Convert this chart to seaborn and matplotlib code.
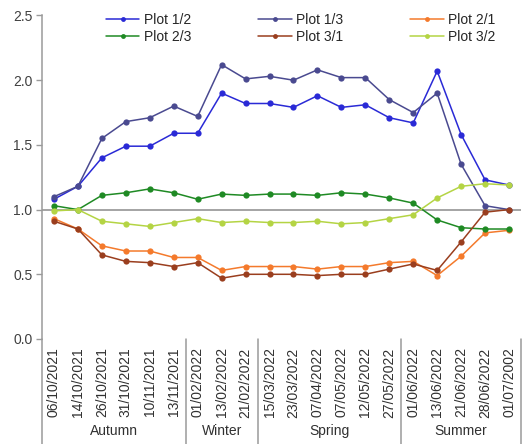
import numpy as np
import pandas as pd
import matplotlib
matplotlib.use("Agg")
import matplotlib.pyplot as plt
import matplotlib.transforms as mtransforms
from matplotlib.lines import Line2D
import seaborn as sns

# Sampling dates grouped by season
dates = ["06/10/2021", "14/10/2021", "26/10/2021", "31/10/2021", "10/11/2021", "13/11/2021",
         "01/02/2022", "13/02/2022", "21/02/2022",
         "15/03/2022", "23/03/2022", "07/04/2022", "07/05/2022", "12/05/2022", "27/05/2022",
         "01/06/2022", "13/06/2022", "21/06/2022", "28/06/2022", "01/07/2002"]
seasons = ["Autumn", "Winter", "Spring", "Summer"]
season_sizes = [6, 3, 6, 5]

# Ratios between plots
plot_1_2 = [1.08, 1.18, 1.40, 1.49, 1.49, 1.59, 1.59, 1.90, 1.82, 1.82,
            1.79, 1.88, 1.79, 1.81, 1.71, 1.67, 2.07, 1.58, 1.23, 1.19]
plot_1_3 = [1.10, 1.18, 1.55, 1.68, 1.71, 1.80, 1.72, 2.12, 2.01, 2.03,
            2.00, 2.08, 2.02, 2.02, 1.85, 1.75, 1.90, 1.35, 1.03, 1.00]
plot_2_1 = [0.93, 0.85, 0.72, 0.68, 0.68, 0.63, 0.63, 0.53, 0.56, 0.56,
            0.56, 0.54, 0.56, 0.56, 0.59, 0.60, 0.49, 0.64, 0.82, 0.84]
plot_2_3 = [1.03, 1.00, 1.11, 1.13, 1.16, 1.13, 1.08, 1.12, 1.11, 1.12,
            1.12, 1.11, 1.13, 1.12, 1.09, 1.05, 0.92, 0.86, 0.85, 0.85]
plot_3_1 = [0.91, 0.85, 0.65, 0.60, 0.59, 0.56, 0.59, 0.47, 0.50, 0.50,
            0.50, 0.49, 0.50, 0.50, 0.54, 0.58, 0.53, 0.75, 0.98, 1.00]
plot_3_2 = [0.99, 1.00, 0.91, 0.89, 0.87, 0.90, 0.93, 0.90, 0.91, 0.90,
            0.90, 0.91, 0.89, 0.90, 0.93, 0.96, 1.09, 1.18, 1.20, 1.19]

series_names = ["Plot 1/2", "Plot 1/3", "Plot 2/1", "Plot 2/3", "Plot 3/1", "Plot 3/2"]
series_values = [plot_1_2, plot_1_3, plot_2_1, plot_2_3, plot_3_1, plot_3_2]
series_colors = ["#2a2ad6", "#4a4a90", "#f47a2c", "#1f8a24", "#9a3e1e", "#b4d444"]

sns.set_style("white")
plt.rcParams["font.family"] = ["Liberation Sans", "DejaVu Sans"]

pos = np.arange(len(dates))
df = pd.concat([
    pd.DataFrame({"pos": pos, "value": vals, "series": name})
    for name, vals in zip(series_names, series_values)
], ignore_index=True)

fig = plt.figure(figsize=(5.25, 4.44), dpi=100)
ax = fig.add_axes([42 / 525, 1 - 339 / 444, 479 / 525, (339 - 15.5) / 444])

palette = dict(zip(series_names, series_colors))
sns.lineplot(data=df, x="pos", y="value", hue="series", palette=palette,
             marker="o", markersize=4.5, markeredgewidth=0, linewidth=1.1,
             legend=False, ax=ax)

# horizontal axis drawn through 1.0
ax.axhline(1.0, color="#8c8c8c", lw=1.1, zorder=0.5)

ax.set_xlim(-0.5, len(dates) - 0.5)
ax.set_ylim(0, 2.5)
ax.set_yticks(np.arange(0, 2.51, 0.5))
ax.set_yticklabels([f"{v:.1f}" for v in np.arange(0, 2.51, 0.5)], fontsize=10, color="#404040")
ax.set_xticks(pos)
ax.set_xticklabels(dates, rotation=90, fontsize=10, color="#303030")
ax.tick_params(axis="x", length=0, pad=6)
ax.tick_params(axis="y", length=4, width=1, color="#9a9a9a", direction="out", pad=3, left=True)
ax.set_xlabel("")
ax.set_ylabel("")
for side in ["top", "right", "bottom"]:
    ax.spines[side].set_visible(False)
ax.spines["left"].set_color("#9a9a9a")
ax.spines["left"].set_linewidth(1.1)

# season separators and labels below the axis
trans = mtransforms.blended_transform_factory(ax.transData, ax.transAxes)
bounds = np.concatenate([[0], np.cumsum(season_sizes)]) - 0.5
for b in bounds:
    ax.plot([b, b], [0, -0.33], transform=trans, color="#9a9a9a", lw=1.1, clip_on=False)
for name, lo, hi in zip(seasons, bounds[:-1], bounds[1:]):
    ax.text((lo + hi) / 2, -0.283, name, transform=trans, ha="center", va="center",
            fontsize=10, color="#303030")

# legend laid out in three columns, two rows
order = [0, 3, 1, 4, 2, 5]
handles = [Line2D([], [], color=series_colors[i], lw=1.1, marker="o", markersize=3.5,
                  markeredgewidth=0) for i in order]
labels = [series_names[i] for i in order]
fig.legend(handles, labels, ncol=3, loc="upper left",
           bbox_to_anchor=(106 / 525, 1 - 13 / 444), frameon=False, fontsize=10,
           handlelength=2.4, handletextpad=0.3, columnspacing=4.85, labelspacing=0.22,
           borderpad=0, borderaxespad=0)

fig.savefig("out.png", dpi=100, facecolor="white")
